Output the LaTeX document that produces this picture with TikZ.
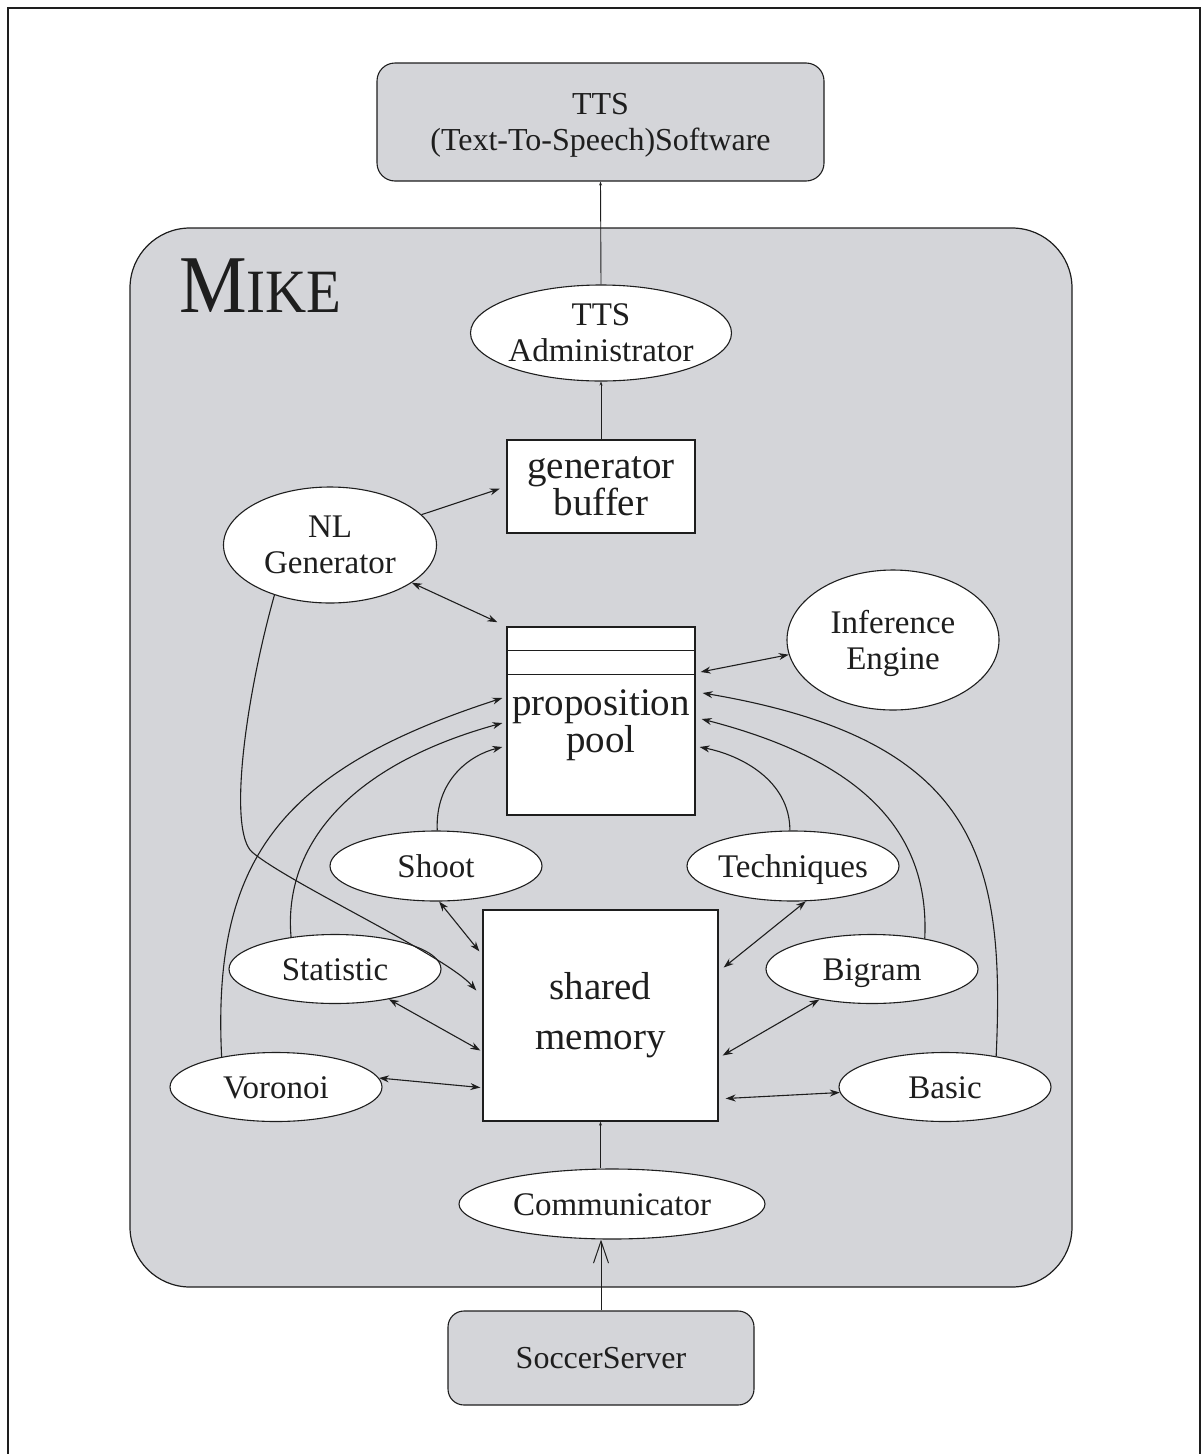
\documentclass[tikz,border=0pt]{standalone}
\usepackage{fontspec}
\setmainfont{Liberation Serif}
\usetikzlibrary{shapes.geometric,arrows.meta,calc}
\definecolor{bg}{RGB}{212,213,217}
\definecolor{ink}{RGB}{30,30,30}
\begin{document}
\begin{tikzpicture}[x=1pt,y=-1pt,
  ell/.style={ellipse, draw=ink, fill=white, line width=1.1pt, inner sep=-30pt, align=center, text=ink, font=\fontsize{33}{36}\selectfont},
  sell/.style={ell, text height=22pt, text depth=0pt},
  rbox/.style={rectangle, draw=ink, fill=white, line width=1.3pt, inner sep=0pt, align=center, text=ink},
  gbox/.style={rectangle, rounded corners=18pt, draw=ink, fill=bg, line width=1.1pt, align=center, text=ink, font=\fontsize{32}{36}\selectfont},
  arr/.style={-{Stealth[length=10pt,width=7pt]}, line width=1.1pt, draw=ink},
  darr/.style={{Stealth[length=10pt,width=7pt]}-{Stealth[length=10pt,width=7pt]}, line width=1.1pt, draw=ink},
  tarr/.style={-{Stealth[length=4pt,width=3pt]}, line width=0.9pt, draw=ink}]
\useasboundingbox (0,0) rectangle (1201,1454);
% outer frame
\draw[line width=1.8pt, ink] (8,1454) -- (8,8) -- (1200,8) -- (1200,1454);
% containers
\node[gbox, minimum width=447pt, minimum height=118pt, text depth=0pt] (tts) at (600.5,122) {TTS\\(Text-To-Speech)Software};
\node[draw=ink, fill=bg, rounded corners=60pt, line width=1.2pt, minimum width=942pt, minimum height=1059pt, inner sep=0pt] (mike) at (601,757.5) {};
\node[anchor=base west, text=ink, inner sep=0pt] (mikelabel) at (179,312) {\scalebox{1}[1.08]{\fontsize{76}{76}\selectfont M\fontsize{57}{57}\selectfont IKE}};
\node[gbox, rounded corners=16pt, minimum width=306pt, minimum height=94pt] (soccer) at (601,1358) {SoccerServer};
% nodes
\node[ell, minimum width=261pt, minimum height=96pt] (admin) at (601,333) {TTS\\Administrator};
\node[rbox, minimum width=188pt, minimum height=93pt, font=\fontsize{39}{32}\selectfont] (buffer) at (601,486.5) {generator\\buffer};
\node[ell, minimum width=213pt, minimum height=116pt] (nl) at (330,545) {NL\\Generator};
\node[rbox, minimum width=188pt, minimum height=188pt, font=\fontsize{39}{32}\selectfont, text depth=0pt] (pool) at (601,721) {proposition\\pool};
\draw[line width=1.1pt, draw=ink] ([yshift=-24pt]pool.north west) -- ([yshift=-24pt]pool.north east);
\draw[line width=1.1pt, draw=ink] ([yshift=-48pt]pool.north west) -- ([yshift=-48pt]pool.north east);
\node[ell, minimum width=212pt, minimum height=140pt, text depth=0pt] (inf) at (893,640) {Inference\\Engine};
\node[rbox, minimum width=235pt, minimum height=211pt, font=\fontsize{39}{50}\selectfont] (shared) at (600.5,1015.5) {shared\\memory};
\node[sell, minimum width=212pt, minimum height=70pt] (shoot) at (436,866) {Shoot};
\node[sell, minimum width=212pt, minimum height=70pt] (tech) at (793,866) {Techniques};
\node[sell, minimum width=212pt, minimum height=69pt] (stat) at (335,969) {Statistic};
\node[sell, minimum width=212pt, minimum height=69pt] (bigram) at (872,969) {Bigram};
\node[sell, minimum width=212pt, minimum height=69pt] (vor) at (276,1087) {Voronoi};
\node[sell, minimum width=212pt, minimum height=69pt] (basic) at (945,1087) {Basic};
\node[sell, minimum width=306pt, minimum height=70pt] (comm) at (612,1204) {Communicator};
% vertical connectors
\draw[tarr] (admin.north) -- (tts.south);
\draw[tarr] (buffer.north) -- (admin.south);
\draw[tarr] (shared.south |- comm.north) -- (shared.south);
\draw[line width=1pt, draw=ink, -{Straight Barb[length=22pt,width=15pt]}] (soccer.north) -- (soccer.north |- comm.south);
% straight connectors
\draw[arr, shorten >=7pt] (nl) -- (buffer.west);
\draw[darr, shorten >=10pt] (nl) -- (pool.north west);
\draw[darr] ($(pool.east)+(5,-49)$) -- (inf.188);
\draw[darr] (shoot.-85) -- ($(shared.north west)+(-3,42)$);
\draw[darr] (stat) -- ($(shared.west)+(-2,35)$);
\draw[darr] (vor.5) -- ($(shared.west)+(-2,72)$);
\draw[darr] (tech.-70) -- ($(shared.east)+(5,-48)$);
\draw[darr] (bigram) -- ($(shared.east)+(4,40)$);
\draw[darr] ($(shared.east)+(7,83)$) -- (basic);
% curved connectors into the proposition pool
\draw[arr] (vor.151) .. controls (212,860) and (280,770) .. ($(pool.west)+(-4,-23)$);
\draw[arr] (stat.144) .. controls (283,845) and (350,765) .. ($(pool.west)+(-4,2)$);
\draw[arr] (shoot.88) .. controls (435,780) and (470,755) .. ($(pool.west)+(-4,26)$);
\draw[arr] (tech.95) .. controls (790,780) and (740,755) .. ($(pool.east)+(4,26)$);
\draw[arr] (bigram.30) .. controls (930,830) and (860,760) .. ($(pool.east)+(6,-2)$);
\draw[arr] (basic.31) .. controls (1005,860) and (980,740) .. ($(pool.east)+(7,-28)$);
% NL generator to shared memory
\draw[arr] (nl.222) .. controls (245,700) and (228,830) .. (252,852) .. controls (290,884) and (445,955) .. ($(shared.west)+(-6,-25)$);
\end{tikzpicture}
\end{document}
